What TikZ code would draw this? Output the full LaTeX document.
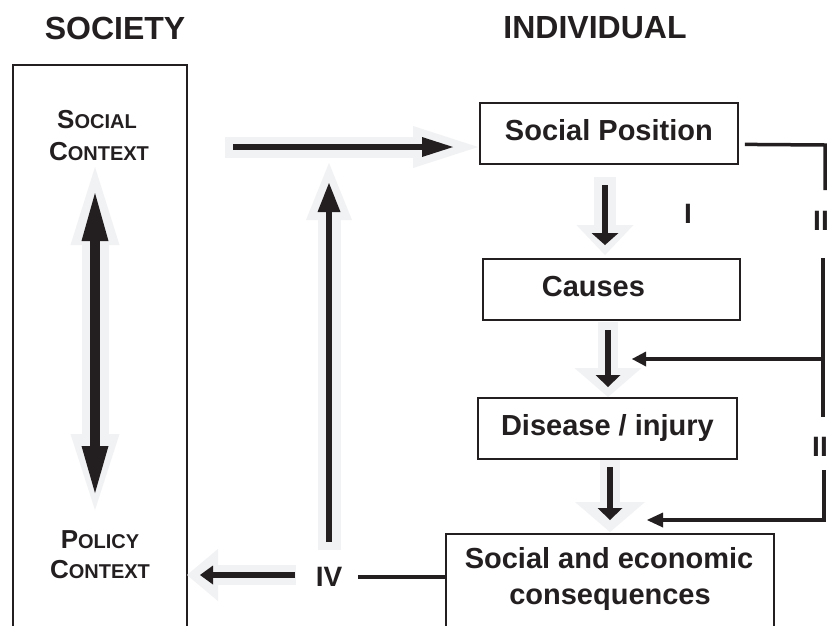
\documentclass[tikz,border=0pt]{standalone}
\usepackage{fontspec}
\setmainfont{Liberation Sans}
\usetikzlibrary{arrows.meta}
\definecolor{ink}{RGB}{35,31,32}
\definecolor{shade}{RGB}{241,242,244}
\newcommand\bigsmall[2]{{\fontsize{26}{26}\selectfont #1}{\fontsize{20}{20}\selectfont #2}}
\tikzset{
  x=1pt, y=-1pt,
  box/.style={draw=ink, line width=1.8pt, minimum height=61pt, inner sep=0pt,
    font=\fontsize{29}{35}\selectfont\bfseries, text=ink, text height=21pt, text depth=6pt},
  lbl/.style={font=\fontsize{29}{35}\selectfont\bfseries, text=ink, inner sep=0pt},
  numlbl/.style={font=\fontsize{28}{34}\selectfont\bfseries, text=ink, inner sep=0pt},
  title/.style={font=\fontsize{32}{38}\selectfont\bfseries, text=ink, inner sep=0pt},
  ctx/.style={font=\bfseries, text=ink, inner sep=0pt, anchor=base},
  conn/.style={draw=ink, line width=3.5pt},
  ghost/.style={draw=shade, line width=#1},
  solid arrow/.style={draw=ink, line width=#1},
}
\begin{document}
\begin{tikzpicture}
\useasboundingbox (0,0) rectangle (830,625);
\fill[white] (0,0) rectangle (830,625);

% titles
\node[title] (tsoc) at (115,28) {SOCIETY};
\node[title] (tind) at (595,28) {INDIVIDUAL};

% society box
\node[draw=ink, line width=1.8pt, minimum width=174pt, minimum height=620pt,
      anchor=north west, inner sep=0pt] (soc) at (12,64) {};
\node[ctx] (sc1) at (97,128) {\bigsmall{S}{OCIAL}};
\node[ctx] (sc2) at (99,160) {\bigsmall{C}{ONTEXT}};
\node[ctx] (pc1) at (100,548) {\bigsmall{P}{OLICY}};
\node[ctx] (pc2) at (100,578) {\bigsmall{C}{ONTEXT}};

% individual boxes
\node[box, minimum width=258pt, anchor=north west] (sp) at (479,102) {Social Position};
\node[box, minimum width=257pt, anchor=north west] (ca) at (482,258) {Causes\hspace*{36pt}};
\node[box, minimum width=259pt, anchor=north west] (di) at (477,397) {Disease / injury};
\node[draw=ink, line width=1.8pt, minimum width=328pt, minimum height=120pt,
      anchor=north west, inner sep=0pt] (sec) at (445,533) {};
\node[lbl, anchor=base] (sec1) at (609,568) {Social and economic};
\node[lbl, anchor=base] (sec2) at (610,604) {consequences};

% double arrow social context <-> policy context
\coordinate (dt) at (95,193); \coordinate (db) at (95,493);
\draw[ghost=27pt, {Triangle[width=49pt,length=78pt,line width=0pt]}-{Triangle[width=49pt,length=76pt,line width=0pt]}]
  ([yshift=26pt]dt) -- ([yshift=-17pt]db);
\draw[solid arrow=10pt, {Triangle[width=27pt,length=48pt,line width=0pt]}-{Triangle[width=27pt,length=47pt,line width=0pt]}]
  (dt) -- (db);

% top arrow social context -> social position
\coordinate (ha) at (233,147); \coordinate (hb) at (453,147);
\draw[ghost=21pt, -{Triangle[width=42pt,length=65pt,line width=0pt]}] (225,147) -- (478,147);
\draw[solid arrow=6pt, -{Triangle[width=20pt,length=31pt,line width=0pt]}] (ha) -- (hb);

% IV upward arrow
\coordinate (va) at (329,542); \coordinate (vb) at (329,183);
\draw[ghost=23pt, -{Triangle[width=46pt,length=57pt,line width=0pt]}] (329,550) -- (329,163);
\draw[solid arrow=6pt, -{Triangle[width=23pt,length=29pt,line width=0pt]}] (va) -- (vb);

% IV label and arrow to policy context
\node[numlbl] (iv) at (329,577) {IV};
\draw[ghost=20pt, -{Triangle[width=52pt,length=31pt,line width=0pt]}] (296,575) -- (187,575);
\draw[solid arrow=6pt, -{Triangle[width=19pt,length=13pt,line width=0pt]}] (295,575) -- (200,575);
\draw[conn] ([xshift=16pt]iv.east) -- (iv -| sec.west);

% down arrows
\draw[ghost=22pt, -{Triangle[width=57pt,length=30pt,line width=0pt]}] (605,177) -- (605,255);
\draw[solid arrow=6pt, -{Triangle[width=27pt,length=12pt,line width=0pt]}] (605,185) -- (605,245);
\draw[ghost=20pt, -{Triangle[width=67pt,length=29pt,line width=0pt]}] (608,322) -- (608,397);
\draw[solid arrow=6pt, -{Triangle[width=25pt,length=12pt,line width=0pt]}] (608,330) -- (608,387);
\draw[ghost=20pt, -{Triangle[width=70pt,length=30pt,line width=0pt]}] (610,460) -- (610,532);
\draw[solid arrow=6pt, -{Triangle[width=25pt,length=12pt,line width=0pt]}] (610,467) -- (610,520);

% labels
\node[numlbl] (l1) at (688,214) {I};
\node[numlbl] (l2a) at (821,221) {II};
\node[numlbl] (l2b) at (820,447) {II};

% right-hand connectors
\coordinate (r1) at (825,145);
\draw[conn] ([xshift=6pt,yshift=-11pt]sp.east) -- (r1) -- (825,190);
\coordinate (m1) at (823,258); \coordinate (m2) at (823,417);
\draw[conn] (m1) -- (m2);
\draw[conn, -{Triangle[width=15pt,length=14pt,line width=0pt]}] (823,359) -- (632,359);
\draw[conn, -{Triangle[width=15pt,length=16pt,line width=0pt]}] (824,470) -- (824,520) -- (647,520);
\end{tikzpicture}
\end{document}
